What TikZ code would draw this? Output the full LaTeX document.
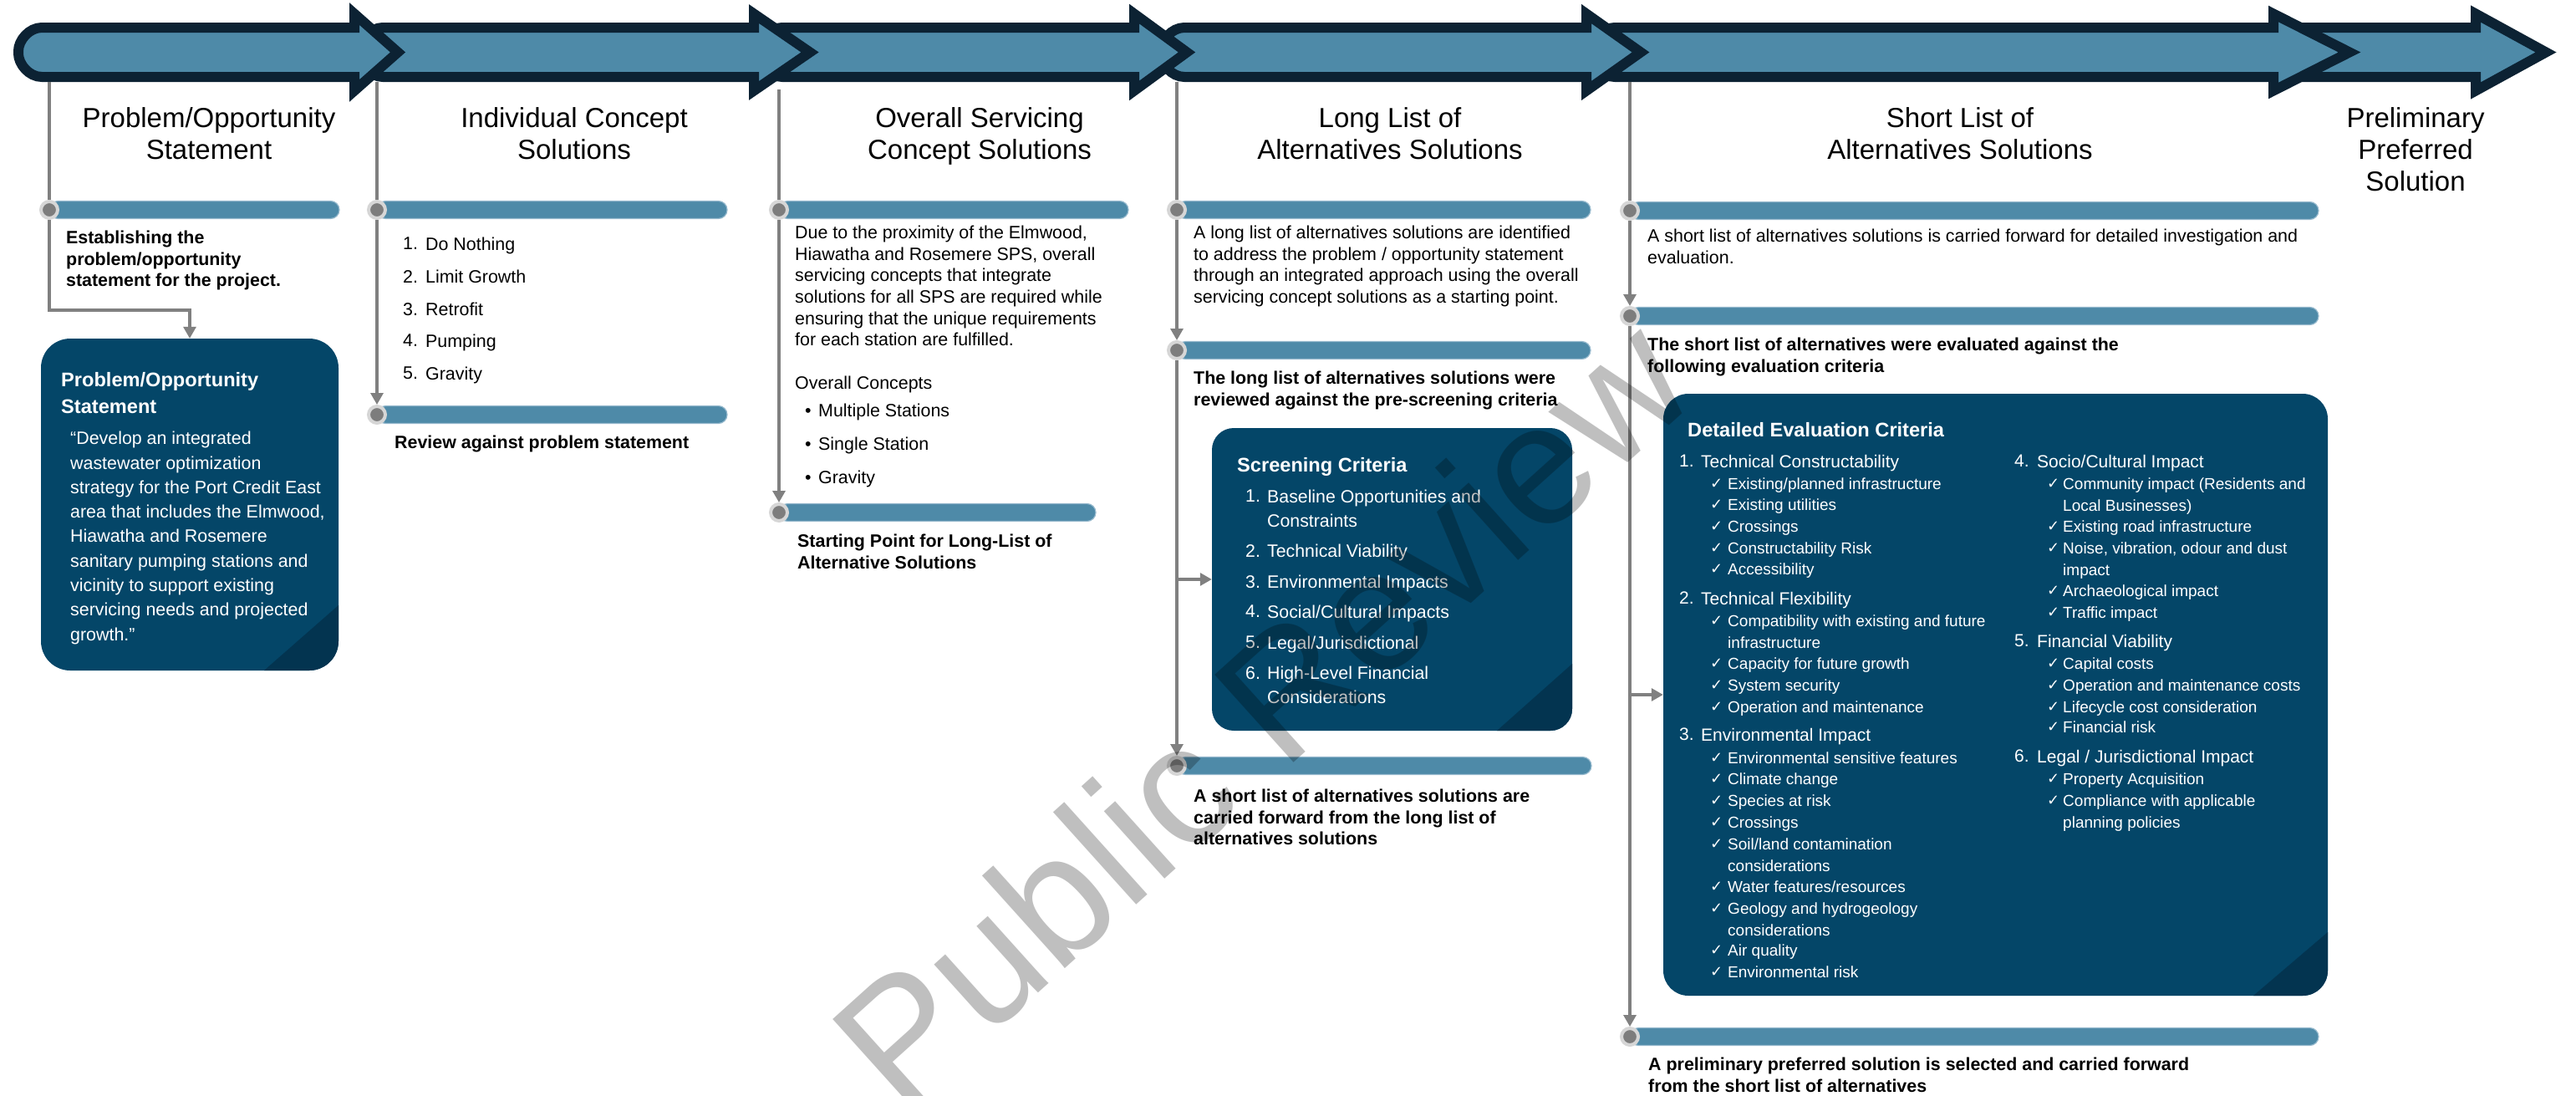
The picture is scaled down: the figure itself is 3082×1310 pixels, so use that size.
\documentclass[tikz,border=0pt]{standalone}
\usepackage{fontspec}
\setmainfont{Liberation Sans}
\newfontfamily\symfont{DejaVu Sans}
\usetikzlibrary{arrows.meta}
\definecolor{steel}{RGB}{78,138,168}
\definecolor{navyline}{RGB}{12,34,51}
\definecolor{boxblue}{RGB}{4,70,104}
\definecolor{boxdark}{RGB}{3,52,80}
\definecolor{conngray}{RGB}{128,128,128}
\definecolor{ringgray}{RGB}{214,214,214}
\definecolor{dotgray}{RGB}{125,125,125}
\definecolor{barline}{RGB}{150,185,205}
\newcommand\tlarrow[3]{%
  \filldraw[timearrow] (#1+28,33) -- (#2,33) -- (#2,16.5) -- (#3,62.5) -- (#2,108.5) -- (#2,92) -- (#1+28,92) .. controls (#1+12.6,92) and (#1,76.6) .. (#1,64) -- (#1,61) .. controls (#1,48.4) and (#1+12.6,33) .. (#1+28,33) -- cycle;}
\newcommand\evL[3]{\node[ck] (ckL#1) at (2046,#2) {✓}; \node[evitem] (itL#1) at (2067,#2) {#3};}
\newcommand\evR[3]{\node[ck] (ckR#1) at (2449,#2) {✓}; \node[evitem] (itR#1) at (2468,#2) {#3};}
\newcommand\evH[6]{\node[crit] (#1n) at (#2,#4) {#5}; \node[crit] (#1t) at (#3,#4) {#6};}
\begin{document}
\begin{tikzpicture}[x=1pt,y=-1pt,
  timearrow/.style={fill=steel, draw=navyline, line width=12pt, line join=miter},
  conn/.style={draw=conngray, line width=3.2pt},
  arr/.style={conn, -{Triangle[length=14pt,width=15pt]}},
  tldot/.style={circle, minimum size=20pt, inner sep=0pt, line width=4pt, draw=ringgray, fill=dotgray},
  tlbar/.style={fill=steel, draw=barline, line width=1.2pt, rounded corners=10.5pt},
  hdr/.style={font=\fontsize{33}{38}\selectfont, align=center, anchor=north, inner sep=0pt},
  bodytxt/.style={font=\fontsize{21.4}{25.6}\selectfont, align=left, anchor=north west, inner sep=0pt},
  bodyb/.style={bodytxt, font=\fontsize{21.4}{25.6}\selectfont\bfseries},
  bluebox/.style={fill=boxblue, inner sep=0pt},
  boxtitle/.style={font=\fontsize{23.6}{32}\selectfont\bfseries, text=white, align=left, anchor=north west, inner sep=0pt},
  wtxt/.style={font=\fontsize{21.4}{29.3}\selectfont, text=white, align=left, anchor=north west, inner sep=0pt},
  scrtxt/.style={font=\fontsize{21.3}{29}\selectfont, text=white, align=left, anchor=north west, inner sep=0pt},
  crit/.style={font=\fontsize{21}{25.5}\selectfont, text=white, anchor=north west, inner sep=0pt},
  evitem/.style={font=\fontsize{19}{25.5}\selectfont, text=white, align=left, anchor=north west, inner sep=0pt},
  ck/.style={font=\symfont\fontsize{18}{25.5}\selectfont, text=white, anchor=north west, inner sep=0pt, yshift=-1pt},
  bul/.style={font=\fontsize{21.4}{25.6}\selectfont, anchor=base west, inner sep=0pt},
]
\useasboundingbox (0,0) rectangle (3082,1310);

% ---------- time arrows (drawn right to left so earlier heads lie on top)
\tlarrow{2726}{2962}{3046}
\tlarrow{1904}{2720}{2811}
\tlarrow{1389}{1898}{1963}
\tlarrow{908}{1357}{1420}
\tlarrow{430}{902}{969}
\tlarrow{22}{424}{476}

% ---------- headings
\node[hdr] (h1) at (250,128) {Problem/Opportunity\\Statement};
\node[hdr] (h2) at (687,128) {Individual Concept\\Solutions};
\node[hdr] (h3) at (1172,128) {Overall Servicing\\Concept Solutions};
\node[hdr] (h4) at (1663,128) {Long List of\\Alternatives Solutions};
\node[hdr] (h5) at (2345,128) {Short List of\\Alternatives Solutions};
\node[hdr] (h6) at (2890,128) {Preliminary\\Preferred\\Solution};

% ---------- bars
\draw[tlbar] (59,240.5) rectangle (406,261.5);
\draw[tlbar] (451,240.5) rectangle (870,261.5);
\draw[tlbar] (451,485.5) rectangle (870,506.5);
\draw[tlbar] (932,240.5) rectangle (1350,261.5);
\draw[tlbar] (932,602.5) rectangle (1311,623.5);
\draw[tlbar] (1408,240.5) rectangle (1903,261.5);
\draw[tlbar] (1408,408.5) rectangle (1903,429.5);
\draw[tlbar] (1408,905.5) rectangle (1904,926.5);
\draw[tlbar] (1950,241.5) rectangle (2774,262.5);
\draw[tlbar] (1950,367.5) rectangle (2774,388.5);
\draw[tlbar] (1950,1229.5) rectangle (2774,1250.5);

% ---------- dots
\node[tldot] (c1a) at (59,251) {};
\node[tldot] (c2a) at (451,251) {};
\node[tldot] (c2b) at (451,496) {};
\node[tldot] (c3a) at (932,251) {};
\node[tldot] (c3b) at (932,613) {};
\node[tldot] (c4a) at (1408,251) {};
\node[tldot] (c4b) at (1408,419) {};
\node[tldot] (c4c) at (1408,916) {};
\node[tldot] (c5a) at (1950,252) {};
\node[tldot] (c5b) at (1950,378) {};
\node[tldot] (c5c) at (1950,1240) {};

% ---------- column 1
\node[bodyb] (t1) at (79,276) {Establishing the\\problem/opportunity\\statement for the project.};
\node[bluebox, rounded corners=35pt, minimum width=356pt, minimum height=397pt,
  path picture={\fill[boxdark, sharp corners] (path picture bounding box.south east) -- ++(-89,0) -- ++(89,-78) -- cycle;}]
  (box1) at (227,603.5) {};
\node[boxtitle] (b1t) at (73,445) {Problem/Opportunity\\Statement};
\node[wtxt] (b1q) at (84,516) {“Develop an integrated\\wastewater optimization\\strategy for the Port Credit East\\area that includes the Elmwood,\\Hiawatha and Rosemere\\sanitary pumping stations and\\vicinity to support existing\\servicing needs and projected\\growth.”};

% ---------- column 2
\foreach \n/\t/\y in {1/Do Nothing/292, 2/Limit Growth/331, 3/Retrofit/370, 4/Pumping/408, 5/Gravity/447} {
  \node[bodytxt] (l2n\n) at (482,\y-8) {\n.};
  \node[bodytxt] (l2t\n) at (509,\y-8) {\t};
}
\node[bodyb] (t2) at (472,521) {Review against problem statement};

% ---------- column 3
\node[bodytxt] (p3) at (951,270) {Due to the proximity of the Elmwood,\\Hiawatha and Rosemere SPS, overall\\servicing concepts that integrate\\solutions for all SPS are required while\\ensuring that the unique requirements\\for each station are fulfilled.};
\node[bodytxt] (oc) at (951,450) {Overall Concepts};
\foreach \n/\t/\y in {1/Multiple Stations/483, 2/Single Station/523, 3/Gravity/563} {
  \node[bul] (bu\n) at (963,\y+15.6) {\textbullet};
  \node[bodytxt] (bt\n) at (979,\y) {\t};
}
\node[bodyb] (t3) at (954,639) {Starting Point for Long-List of\\Alternative Solutions};

% ---------- column 4
\node[bodytxt] (p4) at (1428,270) {A long list of alternatives solutions are identified\\to address the problem / opportunity statement\\through an integrated approach using the overall\\servicing concept solutions as a starting point.};
\node[bodyb] (t4a) at (1428,444) {The long list of alternatives solutions were\\reviewed against the pre-screening criteria};
\node[bluebox, rounded corners=26pt, minimum width=431pt, minimum height=362pt,
  path picture={\fill[boxdark, sharp corners] (path picture bounding box.south east) -- ++(-90,0) -- ++(90,-80) -- cycle;}]
  (scr) at (1665.5,693) {};
\node[boxtitle] (scrt) at (1480,547) {Screening Criteria};
\node[scrtxt] (s1n) at (1490,586) {1.};
\node[scrtxt] (s1t) at (1516,586) {Baseline Opportunities and\\Constraints};
\node[scrtxt] (s2n) at (1490,651) {2.};
\node[scrtxt] (s2t) at (1516,651) {Technical Viability};
\node[scrtxt] (s3n) at (1490,688) {3.};
\node[scrtxt] (s3t) at (1516,688) {Environmental Impacts};
\node[scrtxt] (s4n) at (1490,724) {4.};
\node[scrtxt] (s4t) at (1516,724) {Social/Cultural Impacts};
\node[scrtxt] (s5n) at (1490,761) {5.};
\node[scrtxt] (s5t) at (1516,761) {Legal/Jurisdictional};
\node[scrtxt] (s6n) at (1490,797) {6.};
\node[scrtxt] (s6t) at (1516,797) {High-Level Financial\\Considerations};
\node[bodyb] (t4b) at (1428,944) {A short list of alternatives solutions are\\carried forward from the long list of\\alternatives solutions};

% ---------- column 5
\node[bodytxt] (p5) at (1971,274) {A short list of alternatives solutions is carried forward for detailed investigation and\\evaluation.};
\node[bodyb] (t5a) at (1971,404) {The short list of alternatives were evaluated against the\\following evaluation criteria};
\node[bluebox, rounded corners=30pt, minimum width=795pt, minimum height=720pt,
  path picture={\fill[boxdark, sharp corners] (path picture bounding box.south east) -- ++(-89,0) -- ++(89,-76) -- cycle;}]
  (det) at (2387.5,831) {};
\node[boxtitle] (dett) at (2019,505) {Detailed Evaluation Criteria};
\evH{e1}{2009}{2035}{544}{1.}{Technical Constructability}
\evL{a}{572}{Existing/planned infrastructure}
\evL{b}{597}{Existing utilities}
\evL{c}{623}{Crossings}
\evL{d}{649}{Constructability Risk}
\evL{e}{674}{Accessibility}
\evH{e2}{2009}{2035}{708}{2.}{Technical Flexibility}
\evL{f}{736}{Compatibility with existing and future\\infrastructure}
\evL{g}{787}{Capacity for future growth}
\evL{h}{813}{System security}
\evL{i}{839}{Operation and maintenance}
\evH{e3}{2009}{2035}{871}{3.}{Environmental Impact}
\evL{j}{900}{Environmental sensitive features}
\evL{k}{925}{Climate change}
\evL{l}{951}{Species at risk}
\evL{m}{977}{Crossings}
\evL{n}{1003}{Soil/land contamination\\considerations}
\evL{o}{1054}{Water features/resources}
\evL{p}{1080}{Geology and hydrogeology\\considerations}
\evL{q}{1130}{Air quality}
\evL{r}{1156}{Environmental risk}
\evH{e4}{2410}{2437}{544}{4.}{Socio/Cultural Impact}
\evR{a}{572}{Community impact (Residents and\\Local Businesses)}
\evR{b}{623}{Existing road infrastructure}
\evR{c}{649}{Noise, vibration, odour and dust\\impact}
\evR{d}{700}{Archaeological impact}
\evR{e}{726}{Traffic impact}
\evH{e5}{2410}{2437}{759}{5.}{Financial Viability}
\evR{f}{787}{Capital costs}
\evR{g}{813}{Operation and maintenance costs}
\evR{h}{839}{Lifecycle cost consideration}
\evR{i}{863}{Financial risk}
\evH{e6}{2410}{2437}{897}{6.}{Legal / Jurisdictional Impact}
\evR{j}{925}{Property Acquisition}
\evR{k}{951}{Compliance with applicable\\planning policies}
\node[bodyb] (t5b) at (1972,1265) {A preliminary preferred solution is selected and carried forward\\from the short list of alternatives};

% ---------- connectors
\coordinate (s1) at (59,98);
\coordinate (s2) at (451,98);
\coordinate (s3) at (932,107);
\coordinate (s4) at (1408,98);
\coordinate (s5) at (1950,98);
\coordinate (e1) at (227,371);
\coordinate (j4) at (1408,693);
\coordinate (j5) at (1950,831);
\draw[conn] (s1) -- (c1a);
\draw[arr] (c1a) |- (e1) -- (box1);
\draw[conn] (s2) -- (c2a);
\draw[arr] (c2a) -- (c2b);
\draw[conn] (s3) -- (c3a);
\draw[arr] (c3a) -- (c3b);
\draw[conn] (s4) -- (c4a);
\draw[arr] (c4a) -- (c4b);
\draw[arr] (c4b) -- (c4c);
\draw[arr] (j4) -- (scr);
\draw[conn] (s5) -- (c5a);
\draw[arr] (c5a) -- (c5b);
\draw[arr] (c5b) -- (c5c);
\draw[arr] (j5) -- (det);

% ---------- watermark
\node[rotate=42, text=black, opacity=0.25, font=\fontsize{205}{205}\selectfont, inner sep=0pt] (wm) at (1508,850) {Public Review};
\end{tikzpicture}
\end{document}
